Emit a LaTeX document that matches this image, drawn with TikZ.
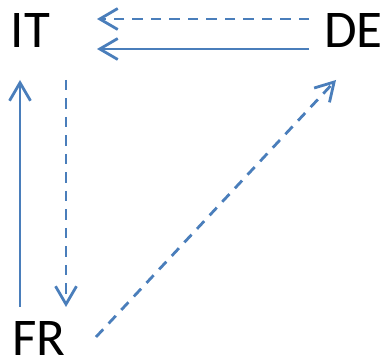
\documentclass[tikz,border=0pt]{standalone}
\usepackage{fontspec}
\setmainfont{Carlito}
\usetikzlibrary{arrows.meta,calc}
\definecolor{lineblue}{RGB}{74,126,187}
\tikzset{
  x=1pt,y=1pt,
  lbl/.style={inner sep=0pt,font=\fontsize{53}{53}\selectfont,text=black},
  conn/.style={draw=lineblue,line width=2.8pt,-{Straight Barb[length=18pt,width=21pt,line width=2.8pt]}},
  dsh/.style={dash pattern=on 10.5pt off 8pt}
}
\begin{document}
\begin{tikzpicture}
\useasboundingbox (0,0) rectangle (384,358);
\node[lbl,anchor=base west] (IT) at (10.5,310) {IT};
\node[lbl,anchor=base east] (DE) at (383,310) {DE};
\node[lbl,anchor=base west] (FR) at (12,2) {FR};
\draw[conn,dsh] ($(DE.base east)+(-74,29)$) -- ($(IT.base west)+(86.5,29)$);
\draw[conn] ($(DE.base east)+(-74,-1)$) -- ($(IT.base west)+(86.5,-1)$);
\draw[conn] ($(FR.base west)+(8,49)$) -- ($(IT.base west)+(9.5,-32)$);
\draw[conn,dsh] ($(IT.base west)+(55.5,-32)$) -- ($(FR.base west)+(54,49)$);
\draw[conn,dsh] ($(FR.base west)+(84,19)$) -- ($(DE.base east)+(-47,-32)$);
\end{tikzpicture}
\end{document}
